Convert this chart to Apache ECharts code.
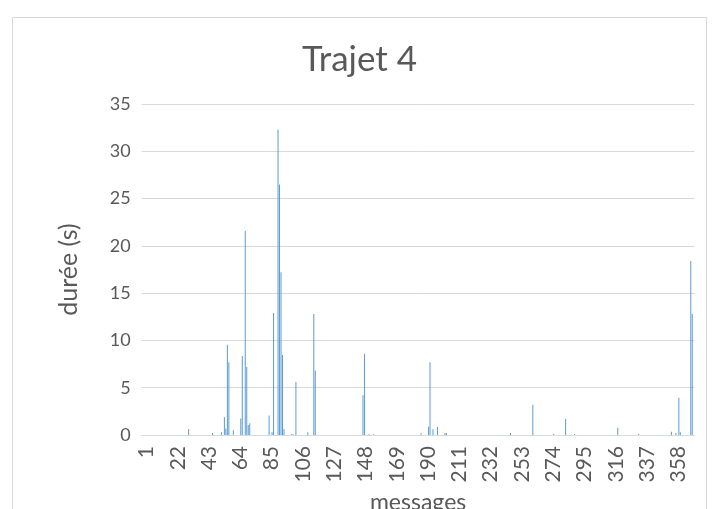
<!DOCTYPE html>
<html>
<head>
<meta charset="utf-8">
<script src="https://cdn.jsdelivr.net/npm/echarts@6/dist/echarts.min.js"></script>
<style>
html,body{margin:0;padding:0;background:#fff;}
#c{width:719px;height:509px;}
</style>
</head>
<body>
<div id="c"></div>
<script>
var chartTitle = "Trajet 4";
var xAxisName = "messages";
var yAxisName = "durée (s)";
var yTicks = [0, 5, 10, 15, 20, 25, 30, 35];

// durations (s) for messages 1..371
var durations = [
  // 1-20
  0,0,0,0,0,0,0,0,0,0, 0,0,0,0,0,0,0,0,0,0,
  // 21-40
  0,0,0,0,0,0,0,0,0,0, 0,0.63,0,0,0,0,0,0,0,0,
  // 41-60
  0,0,0,0,0,0,0,0.2,0,0, 0,0,0,0.3,0,1.9,0.7,9.55,7.7,0,
  // 61-80
  0,0.5,0,0,0,0,1.75,8.35,0,21.6, 7.2,1.05,1.25,0,0,0,0,0,0,0,
  // 81-100
  0,0,0,0,0,2.05,0,0.3,12.9,0, 0,32.3,26.5,17.2,8.45,0.63,0,0,0,0,
  // 101-120
  0.08,0.08,0,5.6,0,0,0,0,0,0, 0,0.28,0,0,0,12.8,6.8,0,0,0,
  // 121-140
  0,0,0,0,0,0,0,0,0,0, 0,0,0,0,0,0,0,0,0,0,
  // 141-160
  0,0,0,0,0,0,0,0,4.2,8.6, 0,0,0.08,0,0,0.08,0,0,0,0,
  // 161-180
  0,0,0,0,0,0,0,0,0,0, 0,0,0,0,0,0,0,0,0,0,
  // 181-200
  0,0,0,0,0,0,0,0.18,0,0, 0,0,0.88,7.7,0,0.6,0,0,0.85,0,
  // 201-220
  0,0,0,0.2,0.2,0,0,0,0,0, 0,0,0,0,0,0,0,0,0,0,
  // 221-240
  0,0,0,0,0,0,0,0,0,0, 0,0,0,0,0,0,0,0,0,0,
  // 241-260
  0,0,0,0,0,0,0,0.2,0,0, 0,0,0,0,0,0,0,0,0,0,
  // 261-280
  0,0,3.2,0,0,0,0,0,0,0, 0,0,0,0,0,0,0.1,0,0,0,
  // 281-300
  0,0,0,0,1.7,0,0,0,0,0, 0.1,0,0,0,0,0,0,0,0,0,
  // 301-320
  0,0,0,0,0,0,0,0,0,0, 0,0,0,0,0,0,0,0,0,0.77,
  // 321-340
  0,0,0,0,0,0,0,0,0,0, 0,0,0,0.1,0,0,0,0,0,0,
  // 341-360
  0,0,0,0,0,0,0,0,0,0, 0,0,0,0,0,0.35,0,0,0.2,0,
  // 361-371
  3.95,0.3,0,0,0,0,0,0,18.4,12.8, 0
];

var messages = [];
for (var i = 0; i < durations.length; i++) messages.push(String(i + 1));

var FONT = "Lato";
var GREY = "#595959";

var chart = echarts.init(document.getElementById('c'), null, {renderer: 'canvas'});
chart.setOption({
  animation: false,
  backgroundColor: '#ffffff',
  title: {
    text: chartTitle,
    left: 'center',
    top: 37,
    textStyle: {fontFamily: FONT, fontSize: 35, fontWeight: 'normal', color: GREY}
  },
  graphic: [{
    type: 'rect',
    shape: {x: 12.5, y: 17.5, width: 694, height: 500},
    style: {fill: null, stroke: '#d9d9d9', lineWidth: 1},
    silent: true
  }],
  grid: {left: 141.7, right: 24.5, top: 104, bottom: 74, containLabel: false, outerBoundsMode: 'none'},
  xAxis: {
    type: 'category',
    data: messages,
    name: xAxisName,
    nameLocation: 'middle',
    nameGap: 56,
    nameTextStyle: {fontFamily: FONT, fontSize: 23, color: GREY},
    axisLine: {lineStyle: {color: '#d9d9d9', width: 1}},
    axisTick: {show: false},
    axisLabel: {
      interval: 20,
      rotate: 90,
      margin: 11,
      verticalAlign: 'top',
      lineHeight: 8,
      fontFamily: FONT,
      fontSize: 21,
      color: GREY
    }
  },
  yAxis: {
    type: 'value',
    min: 0,
    max: yTicks[yTicks.length - 1],
    interval: 5,
    name: yAxisName,
    nameLocation: 'middle',
    nameRotate: 90,
    nameGap: 60,
    nameTextStyle: {fontFamily: FONT, fontSize: 25, color: GREY},
    axisLine: {show: false},
    axisTick: {show: false},
    axisLabel: {margin: 11, fontFamily: FONT, fontSize: 18, color: GREY},
    splitLine: {lineStyle: {color: '#d9d9d9', width: 1}}
  },
  series: [{
    type: 'bar',
    data: durations,
    barWidth: '45%',
    itemStyle: {color: '#5B9BD5'}
  }]
});
</script>
</body>
</html>
